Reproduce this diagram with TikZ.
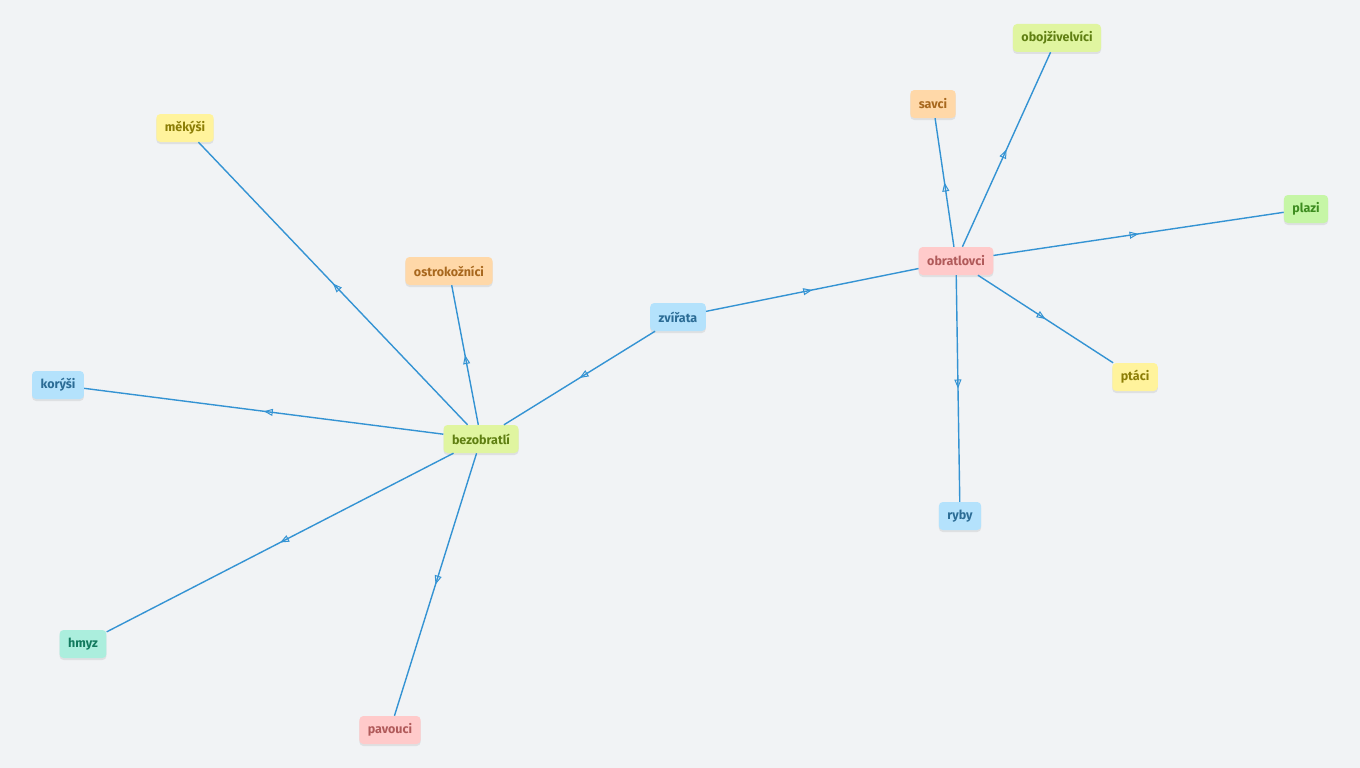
\documentclass[tikz,border=0pt]{standalone}
\usepackage{fontspec}
\setmainfont{Fira Sans}
\usetikzlibrary{arrows.meta,decorations.markings,shadows}
\definecolor{bgcol}{HTML}{F1F3F5}
\definecolor{edgecol}{HTML}{3493D3}
\definecolor{blueF}{HTML}{B4E2FC}\definecolor{blueT}{HTML}{2B6C95}
\definecolor{pinkF}{HTML}{FFCACA}\definecolor{pinkT}{HTML}{B05A5A}
\definecolor{limeF}{HTML}{E0F5A0}\definecolor{limeT}{HTML}{5F7F12}
\definecolor{orangeF}{HTML}{FFD8A8}\definecolor{orangeT}{HTML}{A8681E}
\definecolor{yellowF}{HTML}{FFF39C}\definecolor{yellowT}{HTML}{8C7E06}
\definecolor{greenF}{HTML}{C6F6A6}\definecolor{greenT}{HTML}{3D8C1F}
\definecolor{tealF}{HTML}{ABEEDD}\definecolor{tealT}{HTML}{127A5E}
\tikzset{
  box/.style={rectangle, rounded corners=4pt, minimum height=28pt, inner xsep=8.5pt, inner ysep=0pt,
    font=\fontsize{12.5}{14}\selectfont\bfseries,
    drop shadow={opacity=0.16, shadow xshift=0pt, shadow yshift=-2pt}},
  bluebox/.style={box, fill=blueF, text=blueT},
  pinkbox/.style={box, fill=pinkF, text=pinkT},
  limebox/.style={box, fill=limeF, text=limeT},
  orangebox/.style={box, fill=orangeF, text=orangeT},
  yellowbox/.style={box, fill=yellowF, text=yellowT},
  greenbox/.style={box, fill=greenF, text=greenT},
  tealbox/.style={box, fill=tealF, text=tealT},
  edge/.style={draw=edgecol, line width=1.4pt, postaction={decorate},
    decoration={markings, mark=at position 0.5 with {\arrow[edgecol, line width=1pt]{Triangle[open, length=9pt, width=7pt]}}}}
}
\begin{document}
\begin{tikzpicture}[x=1pt,y=-1pt]
\fill[bgcol] (0,0) rectangle (1360,768);
\useasboundingbox (0,0) rectangle (1360,768);
\node[bluebox] (zv) at (678,317) {zvířata};
\node[pinkbox] (ob) at (956,261) {obratlovci};
\node[limebox] (bez) at (481,439) {bezobratlí};
\node[orangebox] (ost) at (449,271) {ostrokožníci};
\node[yellowbox] (mek) at (185,128) {měkýši};
\node[bluebox] (kor) at (58,385) {korýši};
\node[tealbox] (hmy) at (83,644) {hmyz};
\node[pinkbox] (pav) at (390,730) {pavouci};
\node[orangebox] (sav) at (933,104) {savci};
\node[limebox] (obo) at (1057,38) {obojživelvíci};
\node[greenbox] (pla) at (1306,209) {plazi};
\node[yellowbox] (pta) at (1135,377) {ptáci};
\node[bluebox] (ryb) at (960,516) {ryby};
\draw[edge] (zv) -- (ob);
\draw[edge] (zv) -- (bez);
\draw[edge] (bez) -- (ost);
\draw[edge] (bez) -- (mek);
\draw[edge] (bez) -- (kor);
\draw[edge] (bez) -- (hmy);
\draw[edge] (bez) -- (pav);
\draw[edge] (ob) -- (sav);
\draw[edge] (ob) -- (obo);
\draw[edge] (ob) -- (pla);
\draw[edge] (ob) -- (pta);
\draw[edge] (ob) -- (ryb);
\end{tikzpicture}
\end{document}
